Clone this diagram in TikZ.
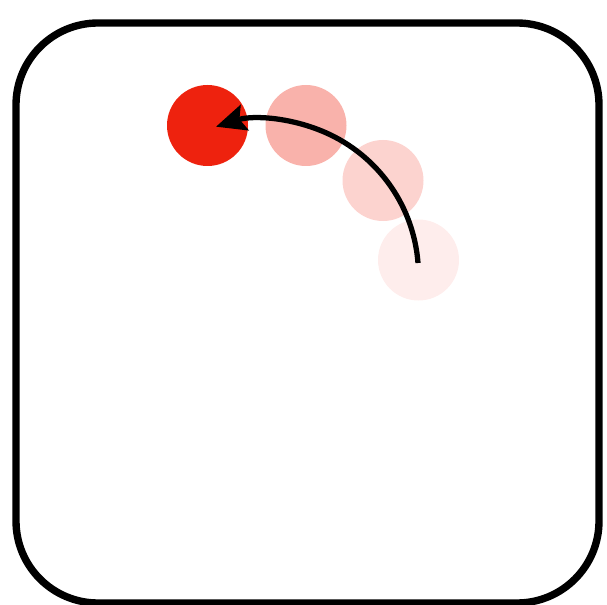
\documentclass[tikz,border=0pt]{standalone}
\usetikzlibrary{arrows.meta}
\definecolor{ballred}{RGB}{238,34,14}

\begin{document}
\begin{tikzpicture}[x=0.02cm, y=-0.02cm,
    ball/.style={circle, minimum size=81*0.02cm, inner sep=0pt, fill=ballred!#1},
    path arrow/.style={line width=3pt, -{Stealth[length=17pt, width=15pt, inset=3pt]}}]
  \useasboundingbox (0,0) rectangle (607,604);
  \draw[line width=4.2pt, rounded corners=82*0.02cm] (16,23) rectangle (599,603);
  % positions of the ball, faded from old to new
  \node[ball=8]   (p4) at (418.5,260) {};
  \node[ball=20]  (p3) at (383,180.5) {};
  \node[ball=35]  (p2) at (306,125.5) {};
  \node[ball=100] (p1) at (207.5,125.5) {};
  \coordinate (start) at (418,263);
  \draw[path arrow] (start) arc[start angle=-4.4, end angle=-107.6, radius=155.5];
\end{tikzpicture}
\end{document}
